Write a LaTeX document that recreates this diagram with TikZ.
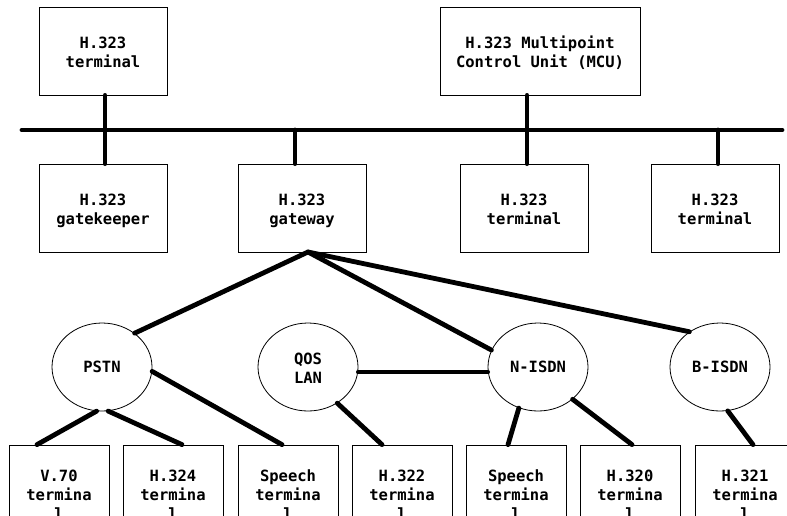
\documentclass[tikz,border=0pt]{standalone}
\usepackage{fontspec}
\setmonofont{DejaVu Sans Mono}
\usetikzlibrary{shapes.geometric}
\newcommand\lowtext[1]{\raisebox{-3pt}[\height][\depth]{\begin{tabular}{@{}c@{}}#1\end{tabular}}}
\begin{document}
\begin{tikzpicture}[x=1pt,y=-1pt,
  lbl/.style={font=\ttfamily\bfseries\fontsize{15.5}{19}\selectfont, align=center},
  box/.style={font=\ttfamily\bfseries\fontsize{15.5}{19}\selectfont, draw, line width=0.8pt, minimum width=128pt, minimum height=88pt, inner sep=0pt},
  lowbox/.style={lbl, draw, line width=0.8pt, minimum width=100pt, minimum height=100pt, inner sep=0pt},
  net/.style={lbl, draw, ellipse, line width=0.8pt, minimum width=100pt, minimum height=88pt, inner sep=0pt},
  link/.style={line width=4.8pt, line cap=round}]
\useasboundingbox (0,0) rectangle (787,515);
\clip (0,0) rectangle (787,515);
% top boxes
\node[box] (tl) at (103,51) {\lowtext{H.323\\terminal}};
\node[box, minimum width=200pt] (mcu) at (540,51) {\lowtext{H.323 Multipoint\\Control Unit (MCU)}};
% second row
\node[box] (gk) at (103,208) {\lowtext{H.323\\gatekeeper}};
\node[box] (gw) at (302,208) {\lowtext{H.323\\gateway}};
\node[box] (t3) at (524,208) {\lowtext{H.323\\terminal}};
\node[box] (t4) at (715,208) {\lowtext{H.323\\terminal}};
% bus
\coordinate (busl) at (22,130);
\coordinate (busr) at (782,130);
\draw[link] (busl) -- (busr);
\coordinate (xa) at (105,130);
\coordinate (xg) at (295,130);
\coordinate (xm) at (527,130);
\coordinate (xt) at (718,130);
\draw[link] (xa |- tl.south) -- (xa |- gk.north);
\draw[link] (xg) -- (xg |- gw.north);
\draw[link] (xm |- mcu.south) -- (xm |- t3.north);
\draw[link] (xt) -- (xt |- t4.north);
% networks
\node[net] (pstn) at (102,367) {PSTN};
\node[net] (qos) at (308,367) {\lowtext{QOS\\LAN}};
\node[net] (nisdn) at (538,367) {N-ISDN};
\node[net] (bisdn) at (720,367) {B-ISDN};
\coordinate (apex) at (308,252);
\draw[link] (apex) -- (pstn.46);
\draw[link] (apex) -- (nisdn.160);
\draw[link] (apex) -- (bisdn.131);
\draw[link] ([yshift=-5pt]qos.east) -- ([yshift=-5pt]nisdn.west);
% bottom terminals
\node[lowbox] (v70) at (59,495) {V.70\\termina\\l};
\node[lowbox] (h324) at (173,495) {H.324\\termina\\l};
\node[lowbox] (sp1) at (288,495) {Speech\\termina\\l};
\node[lowbox] (h322) at (402,495) {H.322\\termina\\l};
\node[lowbox] (sp2) at (516,495) {Speech\\termina\\l};
\node[lowbox] (h320) at (630,495) {H.320\\termina\\l};
\node[lowbox] (h321) at (745,495) {H.321\\termina\\l};
\draw[link] (pstn.263) -- ([xshift=-22pt]v70.north);
\draw[link] (pstn.278) -- ([xshift=9pt]h324.north);
\draw[link] (pstn.355) -- ([xshift=-6pt]sp1.north);
\draw[link] (qos.309) -- ([xshift=-20pt]h322.north);
\draw[link] (nisdn.245) -- ([xshift=-8pt]sp2.north);
\draw[link] (nisdn.317) -- ([xshift=2pt]h320.north);
\draw[link] (bisdn.280) -- ([xshift=8pt]h321.north);
\end{tikzpicture}
\end{document}
